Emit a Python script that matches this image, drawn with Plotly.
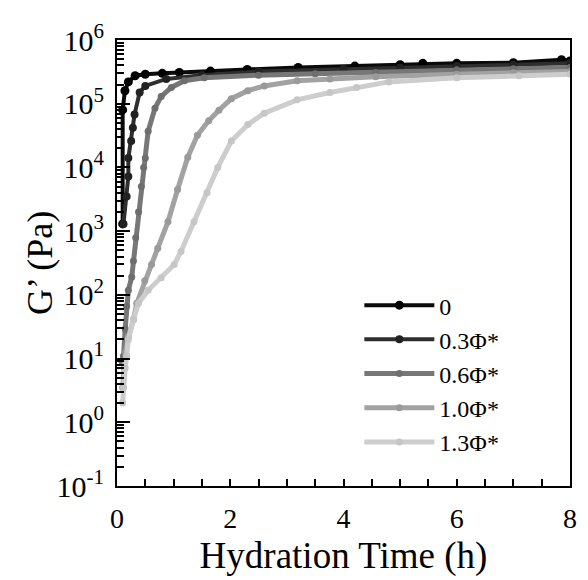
import plotly.graph_objects as go

# Hydration time (h) and G' (Pa)
t_0 = [0.10, 0.10, 0.14, 0.20, 0.32, 0.50, 0.80, 1.10, 1.65, 2.30, 3.20, 4.20, 5.00, 5.40, 6.00, 7.00, 7.85, 8.00]
g_0 = [1.3e3, 8.0e4, 1.6e5, 2.2e5, 2.75e5, 2.9e5, 3.0e5, 3.1e5, 3.25e5, 3.45e5, 3.7e5, 3.9e5, 4.1e5, 4.3e5, 4.3e5, 4.4e5, 4.9e5, 4.7e5]

t_03 = [0.115, 0.17, 0.20, 0.20, 0.25, 0.28, 0.31, 0.40, 0.50, 0.87, 1.50, 2.50, 4.00, 5.00, 6.00, 7.00, 8.00]
g_03 = [1.3e3, 3.5e3, 7.2e3, 1.4e4, 2.6e4, 4.2e4, 6.8e4, 1.5e5, 1.9e5, 2.45e5, 2.8e5, 3.2e5, 3.5e5, 3.7e5, 3.9e5, 4.1e5, 4.3e5]

t_06 = [0.09, 0.115, 0.145, 0.17, 0.20, 0.26, 0.29, 0.33, 0.38, 0.43, 0.47, 0.50, 0.55, 0.67, 0.78, 0.96, 1.19, 1.54, 2.50, 3.50, 4.57, 6.00, 7.00, 8.00]
g_06 = [9, 11, 29, 66, 118, 190, 340, 790, 2.0e3, 5.0e3, 1.0e4, 1.4e4, 3.7e4, 8.5e4, 1.3e5, 1.8e5, 2.3e5, 2.55e5, 2.8e5, 2.95e5, 3.1e5, 3.4e5, 3.55e5, 3.7e5]

t_10 = [0.10, 0.13, 0.15, 0.20, 0.29, 0.35, 0.49, 0.61, 0.72, 0.90, 1.07, 1.25, 1.42, 1.62, 1.80, 2.02, 2.31, 2.60, 3.18, 3.76, 4.57, 6.00, 7.00, 8.00]
g_10 = [3.5, 7.1, 12.6, 22, 41, 74, 166, 300, 540, 1.4e3, 4.5e3, 1.45e4, 3.2e4, 5.4e4, 7.9e4, 1.2e5, 1.6e5, 1.9e5, 2.3e5, 2.45e5, 2.65e5, 2.9e5, 3.05e5, 3.2e5]

t_13 = [0.10, 0.115, 0.145, 0.17, 0.20, 0.29, 0.38, 0.55, 0.78, 1.01, 1.13, 1.36, 1.59, 1.78, 2.02, 2.31, 2.60, 3.18, 3.76, 4.23, 4.80, 6.00, 7.10, 8.00]
g_13 = [2.0, 3.5, 7.1, 11, 20, 41, 74, 118, 186, 300, 480, 1.4e3, 4.0e3, 1.0e4, 2.6e4, 4.7e4, 7.1e4, 1.15e5, 1.5e5, 1.8e5, 2.2e5, 2.55e5, 2.75e5, 2.9e5]

series_names = ["0", "0.3Φ*", "0.6Φ*", "1.0Φ*", "1.3Φ*"]
series_t = [t_0, t_03, t_06, t_10, t_13]
series_g = [g_0, g_03, g_06, g_10, g_13]
line_colors = ["#0a0a0a", "#2e2e2e", "#777777", "#a2a2a2", "#cdcdcd"]
marker_colors = ["#000000", "#222222", "#6e6e6e", "#9a9a9a", "#c6c6c6"]
line_widths = [4, 4, 5, 5, 5]
marker_sizes = [9, 8, 7, 7, 7]

y_tickvals = [10.0 ** e for e in range(-1, 7)]
y_ticktext = ["10<sup>%d</sup>" % e for e in range(-1, 7)]
y_minor = [m * 10.0 ** e for e in range(-1, 6) for m in range(2, 10)]

FONT = "Liberation Serif"

fig = go.Figure()
for name, tx, gy, lc, mc, lw, ms in zip(series_names, series_t, series_g, line_colors, marker_colors, line_widths, marker_sizes):
    fig.add_trace(go.Scatter(
        x=tx, y=gy, name=name, mode="lines+markers",
        line=dict(color=lc, width=lw),
        marker=dict(color=mc, size=ms),
    ))

fig.update_layout(
    width=580, height=572,
    margin=dict(l=109, r=11, t=22, b=93),
    paper_bgcolor="white", plot_bgcolor="white",
    font=dict(family=FONT, color="black", size=24),
    showlegend=True,
    legend=dict(
        x=0.535, y=0.455, xanchor="left", yanchor="top",
        bgcolor="rgba(0,0,0,0)", borderwidth=0,
        font=dict(family=FONT, size=24, color="black"),
        itemwidth=70, tracegroupgap=0,
    ),
    annotations=[dict(
        text="G’ (Pa)", xref="paper", yref="paper", x=-0.17, y=0.5,
        xanchor="center", yanchor="middle", textangle=-90, showarrow=False,
        font=dict(family=FONT, size=36, color="black"),
    )],
)

fig.update_xaxes(
    range=[0, 8], dtick=2, tick0=0,
    ticks="inside", ticklen=7, tickwidth=2, tickcolor="black",
    minor=dict(dtick=0.5, ticks="inside", ticklen=7, tickwidth=2, tickcolor="black"),
    showline=True, linewidth=2, linecolor="black", mirror=True,
    showgrid=False, zeroline=False,
    tickfont=dict(family=FONT, size=28), ticklabelstandoff=6,
    title=dict(text="Hydration Time (h)", font=dict(family=FONT, size=37), standoff=10),
)

fig.update_yaxes(
    type="log", range=[-1, 6],
    tickmode="array", tickvals=y_tickvals, ticktext=y_ticktext,
    ticks="inside", ticklen=13, tickwidth=2, tickcolor="black",
    minor=dict(tickmode="array", tickvals=y_minor, ticks="inside", ticklen=7, tickwidth=2, tickcolor="black"),
    showline=True, linewidth=2, linecolor="black", mirror=True,
    showgrid=False, zeroline=False,
    tickfont=dict(family=FONT, size=30), ticklabelstandoff=5,
)

fig.write_html("out.html")
